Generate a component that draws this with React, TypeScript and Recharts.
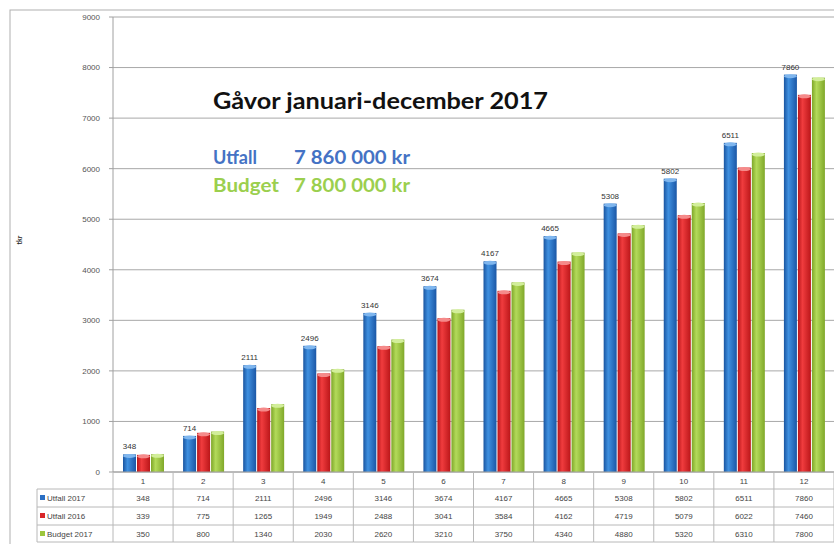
import React from 'react';
import { BarChart, Bar, XAxis, YAxis, CartesianGrid, LabelList, Customized } from 'recharts';

const months = ['1', '2', '3', '4', '5', '6', '7', '8', '9', '10', '11', '12'];
const utfall2017 = [348, 714, 2111, 2496, 3146, 3674, 4167, 4665, 5308, 5802, 6511, 7860];
const utfall2016 = [339, 775, 1265, 1949, 2488, 3041, 3584, 4162, 4719, 5079, 6022, 7460];
const budget2017 = [350, 800, 1340, 2030, 2620, 3210, 3750, 4340, 4880, 5320, 6310, 7800];
const seriesNames = ['Utfall 2017', 'Utfall 2016', 'Budget 2017'];
const yTicks = [0, 1000, 2000, 3000, 4000, 5000, 6000, 7000, 8000, 9000];
const title = 'Gåvor januari-december 2017';
const summaryUtfall = ['Utfall', '7 860 000 kr'];
const summaryBudget = ['Budget', '7 800 000 kr'];
const yLabel = 'tkr';

const data = months.map((m, i) => ({
  month: m,
  u17: utfall2017[i],
  u16: utfall2016[i],
  b17: budget2017[i],
}));

const W = 834;
const H = 544;
const LEFT = 113;
const COL_W = (W - LEFT) / months.length;
const ROW_LINES = [17, 35, 53, 70];
const LINE = '#b8b8b8';
const FONT = '"Liberation Sans", Arial, sans-serif';
const legendColors = ['#2a6fc4', '#d9262a', '#9cc63c'];

const TableTick = (props: any) => {
  const { x, y, payload } = props;
  const i = payload.index;
  const x0 = x - COL_W / 2;
  const x1 = x + COL_W / 2;
  const vals = [utfall2017[i], utfall2016[i], budget2017[i]];
  return (
    <g>
      <line x1={x1} y1={y} x2={x1} y2={y + ROW_LINES[3]} stroke={LINE} />
      {i === 0 && <line x1={x0} y1={y} x2={x0} y2={y + ROW_LINES[3]} stroke={LINE} />}
      {ROW_LINES.map((r, k) => (
        <line key={k} x1={x0} y1={y + r} x2={x1} y2={y + r} stroke={LINE} />
      ))}
      <text x={x} y={y + 11.5} textAnchor="middle" fontSize={8} fill="#444" fontFamily={FONT}>
        {payload.value}
      </text>
      {vals.map((v, k) => (
        <text key={k} x={x} y={y + ROW_LINES[k] + 12} textAnchor="middle" fontSize={8} fill="#444" fontFamily={FONT}>
          {v}
        </text>
      ))}
      {i === 0 && (
        <g>
          <line x1={37} y1={y + ROW_LINES[0]} x2={37} y2={y + ROW_LINES[3]} stroke={LINE} />
          {ROW_LINES.map((r, k) => (
            <line key={'l' + k} x1={37} y1={y + r} x2={x0} y2={y + r} stroke={LINE} />
          ))}
          {seriesNames.map((n, k) => (
            <g key={'n' + k}>
              <rect x={40} y={y + ROW_LINES[k] + 6} width={5} height={5} fill={legendColors[k]} />
              <text x={47} y={y + ROW_LINES[k] + 12} fontSize={8} fill="#444" fontFamily={FONT}>
                {n}
              </text>
            </g>
          ))}
        </g>
      )}
    </g>
  );
};

const makeShape = (gradId: string, cap: string) => (props: any) => {
  const { x, y, width, height } = props;
  if (!height || height <= 0) return <g />;
  return (
    <g>
      <rect x={x} y={y} width={width} height={height} fill={`url(#${gradId})`} />
      <ellipse cx={x + width / 2} cy={y + 1.5} rx={width / 2} ry={2} fill={cap} />
    </g>
  );
};

const Overlay = () => (
  <g fontFamily='Lato, "Open Sans", sans-serif'>
    <rect x={10} y={10} width={W} height={H} fill="none" stroke="#b0b0b0" />
    <text x={213} y={109} fontSize={23} fontWeight="bold" fill="#111" textLength={335} lengthAdjust="spacingAndGlyphs">
      {title}
    </text>
    <text x={213} y={164} fontSize={19} fontWeight="bold" fill="#4472c4" textLength={44} lengthAdjust="spacingAndGlyphs">
      {summaryUtfall[0]}
    </text>
    <text x={294} y={164} fontSize={19} fontWeight="bold" fill="#4472c4" textLength={116} lengthAdjust="spacingAndGlyphs">
      {summaryUtfall[1]}
    </text>
    <text x={213} y={192} fontSize={19} fontWeight="bold" fill="#9bcf4e" textLength={66} lengthAdjust="spacingAndGlyphs">
      {summaryBudget[0]}
    </text>
    <text x={294} y={192} fontSize={19} fontWeight="bold" fill="#9bcf4e" textLength={116} lengthAdjust="spacingAndGlyphs">
      {summaryBudget[1]}
    </text>
    <text x={22} y={240} fontSize={7} fontWeight="bold" fill="#222" textAnchor="middle" transform="rotate(-90 22 240)">
      {yLabel}
    </text>
  </g>
);

export default function App() {
  return (
    <div style={{ position: 'absolute', left: 0, top: 0, width: W, height: H, background: '#fff' }}>
      <BarChart
        width={W}
        height={H}
        data={data}
        margin={{ top: 17, right: 0, bottom: 0, left: 0 }}
        barSize={13}
        barGap={1}
      >
        <defs>
          <linearGradient id="gBlue" x1="0" y1="0" x2="1" y2="0">
            <stop offset="0%" stopColor="#1a55a0" />
            <stop offset="35%" stopColor="#3f90e0" />
            <stop offset="100%" stopColor="#1b57a6" />
          </linearGradient>
          <linearGradient id="gRed" x1="0" y1="0" x2="1" y2="0">
            <stop offset="0%" stopColor="#b8161a" />
            <stop offset="35%" stopColor="#f03c3e" />
            <stop offset="100%" stopColor="#bb1619" />
          </linearGradient>
          <linearGradient id="gGreen" x1="0" y1="0" x2="1" y2="0">
            <stop offset="0%" stopColor="#7ea628" />
            <stop offset="35%" stopColor="#b3da5a" />
            <stop offset="100%" stopColor="#80a82a" />
          </linearGradient>
        </defs>
        <Customized component={Overlay} />
        <CartesianGrid vertical={false} stroke="#a8a8a8" />
        <YAxis
          domain={[0, 9000]}
          ticks={yTicks}
          width={LEFT}
          tick={{ fontSize: 8, fill: '#555', fontFamily: FONT }}
          tickSize={4}
          tickMargin={9}
          axisLine={{ stroke: '#a0a0a0' }}
          tickLine={{ stroke: '#a0a0a0' }}
          interval={0}
        />
        <XAxis
          dataKey="month"
          height={72}
          interval={0}
          tickLine={false}
          tickSize={0}
          tickMargin={0}
          axisLine={{ stroke: '#a0a0a0' }}
          tick={(p: any) => <TableTick {...p} />}
        />
        <Bar dataKey="u17" isAnimationActive={false} shape={makeShape('gBlue', '#7fb6ee')}>
          <LabelList dataKey="u17" position="top" offset={5} fontSize={8} fill="#333" fontFamily={FONT} />
        </Bar>
        <Bar dataKey="u16" isAnimationActive={false} shape={makeShape('gRed', '#f58a8a')} />
        <Bar dataKey="b17" isAnimationActive={false} shape={makeShape('gGreen', '#d2ee9a')} />
      </BarChart>
    </div>
  );
}
